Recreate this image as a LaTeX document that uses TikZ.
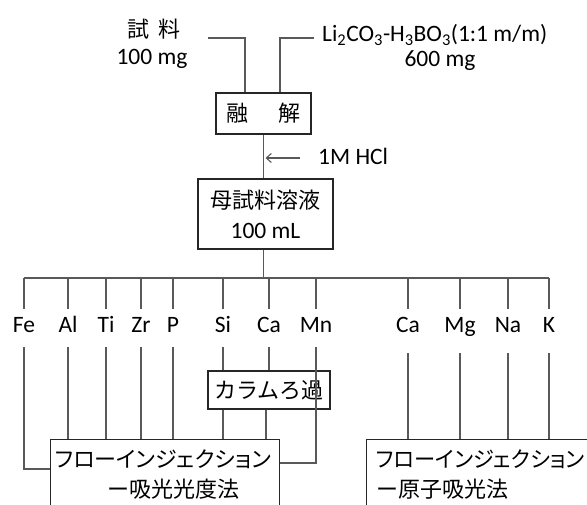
\documentclass[tikz,border=0pt]{standalone}
\usepackage{fontspec}
\setmainfont{Carlito}
\newfontfamily\jp{Noto Sans CJK JP}
\newfontfamily\jpp[RawFeature=+palt]{Noto Sans CJK JP}
\usetikzlibrary{arrows.meta}
\begin{document}
\begin{tikzpicture}[x=1pt,y=-1pt,
  every node/.style={font=\fontsize{23.5}{30}\selectfont, inner sep=0pt},
  jpn/.style={font=\fontsize{22}{30}\selectfont\jp},
  ln/.style={draw=black!65, line width=1.1pt},
  bx/.style={draw=black!85, line width=1.1pt, fill=white},
  el/.style={anchor=base, text height=16pt, text depth=0pt},
]
\useasboundingbox (0,0) rectangle (587,505);
\clip (0,0) rectangle (587,505);

% top inputs
\node[jpn] (samp) at (154,29) {試\hspace{10pt}料};
\node[anchor=base] (sampm) at (152,65) {100 mg};
\node[anchor=base west] (flux) at (322,42) {Li\textsubscript{2}CO\textsubscript{3}-H\textsubscript{3}BO\textsubscript{3}(1:1 m/m)};
\node[anchor=base] (fluxm) at (440,67) {600 mg};
\coordinate (s1) at (208,38);
\coordinate (s2) at (314,38);

% fusion
\node[bx, jpn, minimum width=95pt, minimum height=41pt] (fuse) at (263.5,113.5) {融\hspace{30pt}解};
\draw[ln] (s1) -| ([xshift=-18.5pt]fuse.north);
\draw[ln] (s2) -| ([xshift=16.5pt]fuse.north);

% mother solution
\node[bx, minimum width=135pt, minimum height=70pt, align=center] (mother) at (265.5,214) {{\fontsize{22}{30}\selectfont\jp 母試料溶液}\\100 mL};
\draw[ln] (fuse.south) -- (fuse.south |- mother.north);
\node[anchor=base west] (hcl) at (318,165) {1M HCl};
\coordinate (hcla) at (300,158);
\draw[ln, -{Straight Barb[length=5pt,width=9pt]}] (hcla) -- ([xshift=2pt]hcla -| fuse.south);

% bus
\coordinate (busY) at (0,278);
\draw[ln] (fuse.south |- mother.south) -- (fuse.south |- busY);

\foreach \n/\t/\x in {fe/Fe/24, al/Al/68, ti/Ti/106, zr/Zr/141, p/P/173, si/Si/223, caa/Ca/269, mn/Mn/316, cab/Ca/408, mg/Mg/460, na/Na/508, k/K/549}
  \node[el] (\n) at (\x,333) {\t};

\draw[ln] (fe.north |- busY) -- (k.north |- busY);
\foreach \n in {fe,al,ti,zr,p,si,caa,mn,cab,mg,na,k}
  \draw[ln] ([yshift=8pt]\n.north) -- (\n.north |- busY);

% boxes
\node[bx, jpn, minimum width=122pt, minimum height=38pt] (col) at (269,390) {カラムろ過};
\node[bx, anchor=north west, minimum width=229pt, minimum height=90pt] (box1) at (50,439) {};
\node[bx, anchor=north west, minimum width=240pt, minimum height=90pt] (box2) at (366,439) {};
\node[jpn, font=\fontsize{22}{30}\selectfont\jpp] (b1a) at (163,459) {フローインジェクション};
\node[jpn] (b1b) at (173.5,489) {ー吸光光度法};
\node[jpn, font=\fontsize{22}{30}\selectfont\jpp, anchor=west] (b2a) at (376,459) {\scalebox{0.965}[1]{フローインジェクション}};
\node[jpn, anchor=west] (b2b) at (376,489) {ー原子吸光法};

% lower connectors
\draw[ln] ([yshift=-14pt]fe.south) |- ([yshift=-30pt]box1.north west);
\foreach \n in {al,ti,zr,p}
  \draw[ln] ([yshift=-14pt]\n.south) -- (\n.south |- box1.north);
\foreach \n in {si,caa}
  \draw[ln] ([yshift=-14pt]\n.south) -- (\n.south |- col.north);
\draw[ln] ([yshift=-14pt]mn.south) |- ([yshift=-24pt]box1.north east);
\draw[ln] (si.south |- col.south) -- (si.south |- box1.north);
\draw[ln] ([xshift=-3pt]caa.south |- col.south) -- ([xshift=-3pt]caa.south |- box1.north);
\foreach \n in {cab,mg,na,k}
  \draw[ln] ([yshift=-20pt]\n.south) -- (\n.south |- box2.north);
\end{tikzpicture}
\end{document}
